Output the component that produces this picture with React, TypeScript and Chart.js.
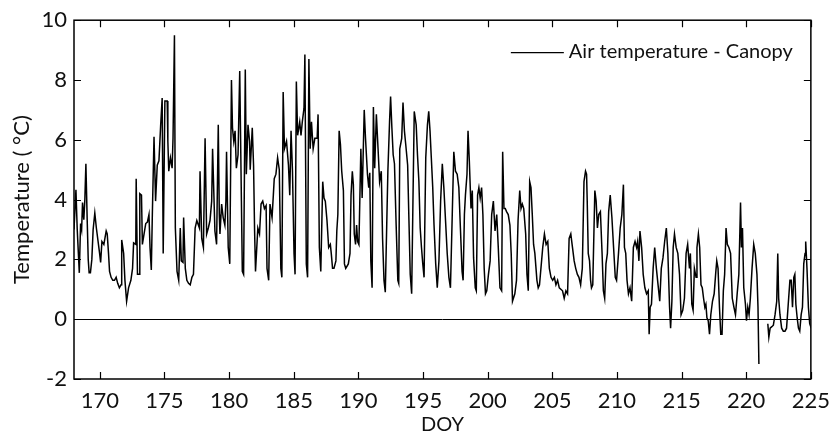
import React, { useEffect, useRef } from "react";
import { Chart, registerables } from "chart.js";

Chart.register(...registerables);

const SERIES_LABEL = "Air temperature - Canopy";
const X_TITLE = "DOY";
const Y_TITLE = "Temperature ( °C)";
const X_MIN = 168;
const X_MAX = 225;
const Y_MIN = -2;
const Y_MAX = 10;
const X_TICKS = [170, 175, 180, 185, 190, 195, 200, 205, 210, 215, 220, 225];
const Y_TICKS = [-2, 0, 2, 4, 6, 8, 10];

// Day of year (decimal)
const DOY = [
  168.0, 168.15, 168.25, 168.36, 168.41, 168.51, 168.59, 168.66, 168.76, 168.84, 168.92, 169.02, 169.1, 169.17, 169.27, 169.38, 169.48, 169.61,
  169.73, 169.98, 170.06, 170.16, 170.31, 170.49, 170.57, 170.67, 170.75, 170.87, 171.0, 171.13, 171.26, 171.38, 171.51, 171.64, 171.69, 171.84, 171.94, 172.07, 172.22, 172.4, 172.53, 172.61, 172.78, 172.81, 172.91, 173.04, 173.09, 173.22, 173.29, 173.42, 173.55, 173.68, 173.8, 173.88, 173.98, 174.06, 174.19, 174.31, 174.44, 174.57, 174.7, 174.82, 174.9, 175.03, 175.21, 175.26, 175.33, 175.46, 175.59, 175.66, 175.77, 175.84, 175.97, 176.1, 176.22, 176.3, 176.43, 176.48, 176.61, 176.73, 176.86, 176.99, 177.12, 177.24, 177.37, 177.5, 177.7, 177.75, 177.88, 178.01, 178.14, 178.26, 178.39, 178.52, 178.65, 178.72, 178.9, 179.03, 179.16,
  179.24, 179.29, 179.42, 179.54, 179.67, 179.75, 179.8, 179.93, 180.05, 180.18, 180.26, 180.36, 180.46, 180.56, 180.69, 180.82, 180.95, 181.02, 181.12, 181.25, 181.33, 181.46, 181.58, 181.63, 181.79, 181.89, 181.97, 182.04, 182.22, 182.35, 182.47, 182.6, 182.73, 182.86, 182.93, 183.06, 183.16, 183.32, 183.42, 183.49, 183.62, 183.75, 183.88, 184.0, 184.08, 184.18, 184.28, 184.44, 184.59, 184.69, 184.79, 184.9, 185.02, 185.1, 185.2, 185.3, 185.46, 185.56, 185.66, 185.79, 185.86, 185.97, 186.07, 186.17, 186.27, 186.37, 186.5, 186.63, 186.81, 186.88, 186.98, 187.09, 187.24, 187.34, 187.44, 187.57, 187.7, 187.83, 187.9, 188.0, 188.11,
  188.26, 188.33, 188.41, 188.51, 188.61, 188.71, 188.84, 188.92, 189.02, 189.22, 189.35, 189.43, 189.53, 189.61, 189.68, 189.78, 189.86, 189.94, 190.04, 190.19, 190.29, 190.45, 190.55, 190.7, 190.8, 190.88, 190.96, 191.06, 191.16, 191.26, 191.39, 191.52, 191.64, 191.77, 191.87, 191.98, 192.08, 192.28, 192.41, 192.49, 192.59, 192.69, 192.79, 192.92, 193.05, 193.12, 193.2, 193.35, 193.45, 193.56, 193.66, 193.81, 193.91, 194.01, 194.12, 194.22, 194.32, 194.47, 194.57, 194.68, 194.78, 194.88, 194.98, 195.08, 195.21, 195.34, 195.44, 195.54, 195.64, 195.75, 195.85, 195.98, 196.1, 196.23, 196.36, 196.49, 196.61, 196.74, 196.87, 197.0, 197.12,
  197.26, 197.38, 197.51, 197.64, 197.77, 197.89, 198.02, 198.1, 198.2, 198.28, 198.4, 198.48, 198.58, 198.71, 198.81, 198.91, 199.04, 199.12, 199.22, 199.32, 199.42, 199.53, 199.63, 199.73, 199.83, 199.93, 200.06, 200.19, 200.31, 200.44, 200.57, 200.7, 200.82, 200.95, 201.08, 201.16, 201.26, 201.36, 201.46, 201.59, 201.72, 201.82, 201.92, 202.1, 202.23, 202.35, 202.48, 202.58, 202.68, 202.79, 202.94, 203.04, 203.14, 203.25, 203.35, 203.45, 203.55, 203.65, 203.81, 203.91, 204.01, 204.26, 204.39, 204.52, 204.65, 204.77, 204.9, 205.03, 205.16, 205.28, 205.41, 205.54, 205.79, 205.92, 206.05, 206.18, 206.3, 206.43, 206.56, 206.69, 206.81, 206.94,
  207.06, 207.19, 207.27, 207.32, 207.45, 207.57, 207.65, 207.7, 207.78, 207.88, 207.96, 208.03, 208.13, 208.29, 208.39, 208.49, 208.59, 208.72, 208.85, 208.95, 209.05, 209.15, 209.26, 209.36, 209.48, 209.61, 209.74, 209.87, 209.97, 210.12, 210.25, 210.38, 210.5, 210.58, 210.68, 210.78, 210.89, 211.01, 211.14, 211.27, 211.4, 211.52, 211.6, 211.7, 211.78, 211.91, 212.03, 212.16, 212.29, 212.42, 212.49, 212.57, 212.67, 212.8, 212.92, 213.05, 213.18, 213.31, 213.43, 213.56, 213.69, 213.82, 213.94, 214.07, 214.15, 214.25, 214.35, 214.45, 214.58, 214.71, 214.84, 214.96, 215.09, 215.22, 215.35, 215.47,
  215.61, 215.68, 215.79, 215.89, 215.99, 216.12, 216.19, 216.3, 216.4, 216.5, 216.6, 216.7, 216.8, 216.88, 216.96, 217.06, 217.16, 217.26, 217.39, 217.52, 217.65, 217.72, 217.82, 217.93, 218.03, 218.13, 218.23, 218.33, 218.44, 218.54, 218.66, 218.79, 218.92, 219.05, 219.17, 219.3, 219.43, 219.51, 219.56, 219.63, 219.71, 219.81, 219.94, 220.02, 220.12, 220.22, 220.32, 220.45, 220.58, 220.7, 220.83, 220.91, 220.98, 221.3, 221.67, 221.75, 221.85, 221.98, 222.1, 222.23, 222.36, 222.44, 222.51, 222.61, 222.74, 222.87, 223.0, 223.12, 223.25, 223.38, 223.48, 223.58, 223.68, 223.76, 223.84, 223.94, 224.04, 224.14, 224.25, 224.35, 224.45, 224.55, 224.6, 224.7, 224.81, 224.91, 225.03,
];

// Air temperature at canopy (°C); null = missing record
const TEMP: (number | null)[] = [
  3.0, 4.33, 3.0, 2.0, 1.55, 3.2, 3.0, 3.9, 3.33, 4.0, 5.2, 3.33, 2.0, 1.55, 1.55, 2.0, 3.0, 3.55,
  3.05, 2.2, 1.9, 2.6, 2.5, 2.95, 2.85, 2.2, 1.6, 1.4, 1.3, 1.3, 1.4, 1.2, 1.05, 1.15, 2.65, 2.2, 1.3, 0.6, 1.05, 1.3, 1.7, 2.55, 2.5, 4.7, 1.5, 1.5, 4.2, 4.15, 2.5, 2.85, 3.2, 3.25, 3.5, 2.4, 1.65, 3.5, 6.1, 3.95, 5.15, 5.3, 6.45, 7.4, 2.2, 7.3, 7.3, 5.95, 4.95, 5.4, 5.05, 6.05, 9.5, 3.05, 1.6, 1.3, 3.05, 1.95, 1.9, 3.4, 1.7, 1.3, 1.2, 1.15, 1.4, 1.5, 3.05, 3.3, 3.05, 4.95, 2.7, 2.4, 6.05, 2.85, 3.05, 3.3, 3.95, 5.7, 2.95, 2.5, 6.5,
  3.5, 2.85, 3.85, 3.4, 3.15, 3.95, 5.6, 2.4, 1.85, 8.0, 6.4, 5.95, 6.3, 5.05, 5.5, 8.3, 3.95, 1.6, 1.5, 8.35, 4.85, 6.5, 5.95, 5.0, 6.4, 5.15, 2.95, 1.6, 3.05, 2.85, 3.85, 3.95, 3.7, 3.8, 1.7, 1.3, 3.85, 3.4, 4.15, 4.7, 4.85, 5.4, 5.0, 1.7, 1.4, 7.6, 5.7, 5.95, 5.15, 4.15, 6.3, 4.95, 2.2, 1.5, 7.95, 6.15, 6.6, 6.15, 6.6, 7.05, 8.85, 1.85, 1.4, 8.7, 5.7, 6.6, 5.7, 6.05, 6.05, 6.85, 2.4, 1.6, 4.6, 4.05, 3.95, 3.3, 2.4, 2.5, 2.2, 1.7, 1.7,
  1.95, 2.95, 3.5, 6.3, 5.85, 4.95, 4.3, 1.85, 1.7, 1.85, 2.2, 4.15, 4.95, 4.5, 2.85, 2.5, 3.15, 2.6, 2.5, 5.7, 4.05, 7.0, 6.05, 4.85, 4.4, 4.9, 1.95, 1.05, 7.1, 5.05, 6.85, 5.7, 4.6, 4.95, 2.7, 1.3, 0.9, 4.95, 6.6, 7.45, 6.4, 5.5, 5.2, 3.15, 1.3, 1.2, 5.7, 6.05, 7.25, 6.3, 5.85, 5.15, 3.3, 1.5, 0.85, 3.95, 6.95, 6.5, 5.5, 4.6, 3.05, 2.4, 1.85, 1.4, 5.4, 6.5, 6.95, 6.3, 5.4, 4.4, 3.15, 1.85, 1.05, 1.95, 3.95, 5.2, 4.4, 3.3, 2.2, 1.4, 1.05,
  3.5, 5.6, 4.95, 4.85, 4.4, 3.05, 1.6, 1.3, 3.5, 4.15, 4.85, 6.3, 5.3, 3.7, 4.3, 2.05, 1.05, 0.95, 4.15, 4.4, 4.05, 4.4, 3.5, 1.7, 0.85, 0.95, 1.5, 1.95, 3.5, 3.95, 2.95, 3.5, 2.4, 1.05, 0.95, 5.6, 3.7, 3.7, 3.6, 3.5, 3.15, 2.2, 0.6, 0.85, 1.3, 3.3, 4.3, 3.7, 3.85, 3.7, 2.85, 1.5, 0.95, 4.6, 4.4, 3.5, 2.5, 2.2, 1.3, 1.05, 1.15, 2.4, 2.85, 2.5, 2.6, 1.7, 1.4, 1.3, 1.4, 1.15, 1.3, 1.05, 0.95, 0.7, 0.95, 0.85, 2.7, 2.85, 2.4, 1.95, 1.7, 1.5,
  1.4, 1.15, 1.5, 1.7, 4.6, 4.95, 4.85, 3.95, 2.2, 1.95, 1.3, 1.05, 1.15, 4.3, 3.95, 3.05, 3.5, 3.6, 2.2, 0.95, 0.7, 1.85, 2.2, 3.6, 4.15, 3.4, 2.4, 1.4, 1.3, 2.2, 3.05, 3.5, 4.5, 2.4, 2.2, 1.3, 0.85, 1.05, 0.6, 2.4, 2.6, 2.4, 2.6, 1.95, 2.95, 2.4, 1.5, 1.05, 0.85, 0.95, -0.5, 0.4, 0.5, 1.7, 2.4, 1.7, 1.15, 0.6, 1.7, 2.05, 2.6, 3.05, 2.2, 0.4, -0.3, 0.6, 2.4, 2.85, 2.4, 2.2, 1.5, 0.15, 0.3, 0.7, 2.2, 2.5,
  1.7, 2.2, 0.5, 0.3, 1.7, 1.4, 2.4, 2.85, 2.4, 1.15, 1.05, 0.7, 0.4, 0.5, 0.05, -0.05, -0.5, 0.15, 0.6, 0.85, 1.6, 1.95, 1.7, 0.4, -0.5, -0.5, 0.95, 1.5, 3.05, 2.5, 2.4, 2.2, 0.7, 0.4, 0.15, 0.85, 1.5, 2.95, 3.9, 2.4, 3.05, 1.05, 0.5, -0.05, 0.4, 0.15, 0.7, 1.7, 2.5, 2.2, 1.5, 0.4, -1.5, null, -0.15, -0.6, -0.3, -0.25, -0.2, 0.15, 0.6, 2.2, 0.7, 0.15, -0.3, -0.4, -0.4, -0.3, 0.5, 1.3, 1.3, 0.4, 1.4, 1.5, 0.5, 0.05, -0.3, -0.4, 0.15, 0.4, 1.85, 2.2, 2.6, 1.7, 0.4, -0.15, -0.3,
];

const FONT = "Lato, 'Open Sans', 'DejaVu Sans', sans-serif";
const INK = "#111111";

const decorPlugin = {
  id: "decor",
  beforeDatasetsDraw(chart: any) {
    const { ctx, chartArea: a, scales } = chart;
    const y0 = Math.round(scales.y.getPixelForValue(0)) + 0.5;
    ctx.save();
    ctx.strokeStyle = "#000";
    ctx.lineWidth = 1;
    ctx.beginPath();
    ctx.moveTo(a.left, y0);
    ctx.lineTo(a.right, y0);
    ctx.stroke();
    ctx.restore();
  },
  afterDraw(chart: any) {
    const { ctx, chartArea: a, scales } = chart;
    const tick = 7;
    ctx.save();
    ctx.strokeStyle = "#000";
    ctx.lineWidth = 1.5;
    ctx.strokeRect(a.left, a.top, a.right - a.left, a.bottom - a.top);
    ctx.lineWidth = 1.2;
    ctx.beginPath();
    X_TICKS.forEach((v) => {
      const x = Math.round(scales.x.getPixelForValue(v)) + 0.5;
      ctx.moveTo(x, a.bottom);
      ctx.lineTo(x, a.bottom - tick);
      ctx.moveTo(x, a.top);
      ctx.lineTo(x, a.top + tick);
    });
    Y_TICKS.forEach((v) => {
      const y = Math.round(scales.y.getPixelForValue(v)) + 0.5;
      ctx.moveTo(a.left, y);
      ctx.lineTo(a.left + tick, y);
      ctx.moveTo(a.right, y);
      ctx.lineTo(a.right - tick, y);
    });
    ctx.stroke();

    // legend
    ctx.font = `20px ${FONT}`;
    ctx.fillStyle = INK;
    ctx.textAlign = "right";
    ctx.textBaseline = "alphabetic";
    const textRight = a.right - 18;
    const baseY = a.top + 38;
    ctx.fillText(SERIES_LABEL, textRight, baseY);
    const w = ctx.measureText(SERIES_LABEL).width;
    const lineEnd = textRight - w - 5;
    const ly = a.top + 32.5;
    ctx.lineWidth = 1.2;
    ctx.beginPath();
    ctx.moveTo(lineEnd - 53, ly);
    ctx.lineTo(lineEnd, ly);
    ctx.stroke();
    ctx.restore();
  },
};

export default function App() {
  const ref = useRef<HTMLCanvasElement | null>(null);

  useEffect(() => {
    if (!ref.current) return;
    const points = DOY.map((d, i) => ({ x: d, y: TEMP[i] }));
    const chart = new Chart(ref.current, {
      type: "line",
      data: {
        datasets: [
          {
            label: SERIES_LABEL,
            data: points as any,
            borderColor: "#000",
            borderWidth: 1.5,
            pointRadius: 0,
            tension: 0,
            spanGaps: false,
          },
        ],
      },
      options: {
        animation: false,
        responsive: false,
        devicePixelRatio: 1,
        layout: { padding: { top: 20, right: 19, bottom: 0, left: 0 } },
        plugins: { legend: { display: false }, tooltip: { enabled: false } },
        scales: {
          x: {
            type: "linear",
            min: X_MIN,
            max: X_MAX,
            grid: { display: false, drawTicks: false },
            border: { display: false },
            afterBuildTicks: (s: any) => {
              s.ticks = X_TICKS.map((v) => ({ value: v }));
            },
            afterFit: (s: any) => {
              s.height = 60;
            },
            ticks: {
              color: INK,
              font: { family: FONT, size: 22 },
              padding: 9,
              maxRotation: 0,
              autoSkip: false,
            },
            title: {
              display: true,
              text: X_TITLE,
              color: INK,
              font: { family: FONT, size: 20 },
              padding: { top: 0, bottom: 2 },
            },
          },
          y: {
            type: "linear",
            min: Y_MIN,
            max: Y_MAX,
            grid: { display: false, drawTicks: false },
            border: { display: false },
            afterBuildTicks: (s: any) => {
              s.ticks = Y_TICKS.map((v) => ({ value: v }));
            },
            afterFit: (s: any) => {
              s.width = 74;
            },
            ticks: {
              color: INK,
              font: { family: FONT, size: 22 },
              padding: 7,
              autoSkip: false,
            },
            title: {
              display: true,
              text: Y_TITLE,
              color: INK,
              font: { family: FONT, size: 22 },
              padding: { top: 9, bottom: 0 },
            },
          },
        },
      },
      plugins: [decorPlugin],
    });
    return () => chart.destroy();
  }, []);

  return (
    <div style={{ position: "fixed", left: 0, top: 0, width: 839, height: 439, background: "#fff" }}>
      <canvas ref={ref} width={839} height={439} style={{ width: 839, height: 439, display: "block" }} />
    </div>
  );
}
